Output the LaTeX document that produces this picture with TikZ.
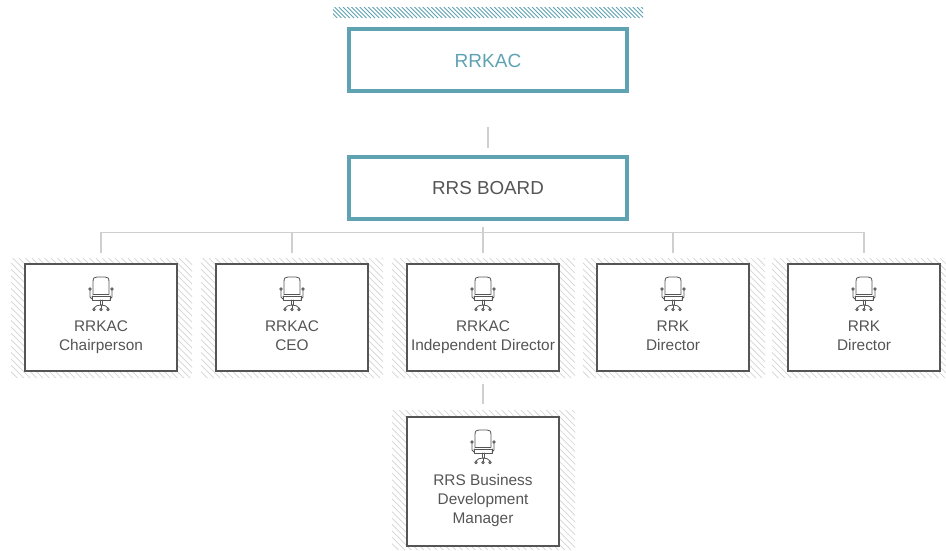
\documentclass[tikz,border=0pt]{standalone}
\usepackage{fontspec}
\setmainfont{Liberation Sans}
\definecolor{teal1}{HTML}{5FA3B3}
\definecolor{ink}{HTML}{555555}
\definecolor{frame}{HTML}{555555}
\definecolor{wire}{HTML}{CFCFCF}
\definecolor{hatchgrey}{HTML}{D4D4D4}
\tikzset{
  headbox/.style={draw=teal1,line width=4.2pt,fill=white,minimum width=277.5pt,minimum height=62pt,inner sep=0pt},
  rolebox/.style={draw=frame,line width=2.4pt,fill=white,minimum width=152pt,inner sep=0pt},
  roletext/.style={text=ink,font=\fontsize{15.4}{18.5}\selectfont,align=center,inner sep=0pt,anchor=north},
  wireline/.style={draw=wire,line width=1.1pt},
  chairline/.style={draw=ink,line width=.8pt,line join=round,line cap=round},
  pics/chair/.style={code={
    \draw[chairline] (-8,2) -- (-8,-10) .. controls (-8,-14) and (-7,-15) .. (-4,-15) -- (4,-15) .. controls (7,-15) and (8,-14) .. (8,-10) -- (8,2);
    \draw[chairline] (-8,2) -- (8,2);
    \draw[chairline] (-9,4) -- (9,4);
    \draw[chairline] (-9,4) -- (-9,8) -- (9,8) -- (9,4);
    \draw[chairline] (-11,-2) -- (-11,5) -- (-9,7) (11,-2) -- (11,5) -- (9,7);
    \draw[chairline,fill=white] (-11,-3) circle (1.3) (11,-3) circle (1.3);
    \draw[chairline] (-1,8) -- (-1,13) (1,8) -- (1,13);
    \draw[chairline] (-7,16) .. controls (-6,14) and (-3,13) .. (0,13) .. controls (3,13) and (6,14) .. (7,16);
    \draw[chairline] (0,13) -- (0,16);
    \draw[chairline,fill=white] (-7,17.5) circle (1.3) (0,17.5) circle (1.3) (7,17.5) circle (1.3);
  }}
}
\newcommand{\hatchzone}[7]{% x1 y1 x2 y2 spacing colour width
  \begin{scope}
    \clip (#1,#2) rectangle (#3,#4);
    \pgfmathsetmacro{\hstart}{#1-(#4-#2)}
    \pgfmathsetmacro{\hnext}{\hstart+#5}
    \foreach \hx in {\hstart,\hnext,...,#3}
      \draw[#6,line width=#7] (\hx,#2) -- ++(#4-#2,#4-#2);
  \end{scope}
}
\begin{document}
\begin{tikzpicture}[x=1pt,y=-1pt]
\useasboundingbox (0,0) rectangle (946,550);
\fill[white] (0,0) rectangle (946,550);
\hatchzone{333}{7}{643}{18}{4.2}{teal1}{.9pt}
\hatchzone{11}{258}{192}{378}{6.4}{hatchgrey}{.7pt}
\hatchzone{201}{258}{383}{378}{6.4}{hatchgrey}{.7pt}
\hatchzone{392}{258}{575}{378}{6.4}{hatchgrey}{.7pt}
\hatchzone{583}{258}{765}{378}{6.4}{hatchgrey}{.7pt}
\hatchzone{772}{258}{946}{378}{6.4}{hatchgrey}{.7pt}
\hatchzone{392}{410}{575}{550}{6.4}{hatchgrey}{.7pt}

\node[headbox] (top) at (488,60) {};
\node[text=teal1,font=\fontsize{19}{22}\selectfont,inner sep=0pt] (toplabel) at (488,60.5) {RRKAC};
\node[headbox] (board) at (488,188) {};
\node[text=ink,font=\fontsize{18.8}{22}\selectfont,inner sep=0pt] (boardlabel) at (488,188.5) {RRS BOARD};

\foreach \n/\cx/\ta/\tb in {a/101/RRKAC/Chairperson,b/292/RRKAC/CEO,c/483/RRKAC/Independent Director,d/673/RRK/Director,e/864/RRK/Director}{
  \node[rolebox,minimum height=107.5pt] (\n) at (\cx,317.5) {};
  \pic at (\cx,292) {chair};
  \node[roletext] (\n text) at (\cx,321) {\ta\\\tb};
}
\node[rolebox,minimum height=129pt] (f) at (483,481.5) {};
\pic at (483,445) {chair};
\node[roletext,font=\fontsize{15.4}{19}\selectfont] (f text) at (483,474) {RRS Business\\Development\\Manager};

\draw[wireline] ([yshift=28pt]board.north) -- ([yshift=7pt]board.north);
\draw[wireline] ([yshift=-6pt]board.south -| c.north) -- ([yshift=10pt]c.north);
\draw[wireline] ([yshift=10pt]a.north) |- ([yshift=30pt]c.north) -| ([yshift=10pt]e.north);
\draw[wireline] ([yshift=30pt]b.north) -- ([yshift=10pt]b.north);
\draw[wireline] ([yshift=30pt]d.north) -- ([yshift=10pt]d.north);
\draw[wireline] ([yshift=-12pt]c.south) -- ([yshift=12pt]f.north);
\end{tikzpicture}
\end{document}
